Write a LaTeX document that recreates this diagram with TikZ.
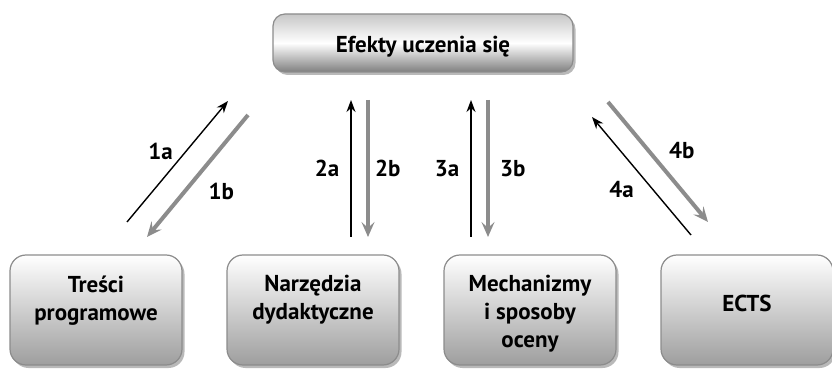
\documentclass[tikz,border=0pt]{standalone}
\usepackage{fontspec}
\setmainfont{PT Sans}
\usetikzlibrary{positioning,shadows,arrows.meta}

\tikzset{
  box/.style={draw=black!45, line width=1.2pt, rounded corners=16pt,
    minimum width=172pt, minimum height=110pt,
    top color=white, bottom color=black!38,
    drop shadow={shadow xshift=2.5pt, shadow yshift=-3pt, opacity=.55}},
  topbox/.style={box, rounded corners=12pt, minimum width=300pt, minimum height=58pt,
    top color=black!22, bottom color=black!50, middle color=white},
  txt/.style={font=\bfseries\fontsize{23}{28}\selectfont, align=center, inner sep=0pt},
  lbl/.style={font=\bfseries\fontsize{23}{24}\selectfont, inner sep=0pt},
  up/.style={-{Stealth[length=12pt,width=9pt]}, line width=1.4pt},
  down/.style={-{Stealth[length=15pt,width=13pt,inset=6pt]}, line width=4pt, draw=black!45},
}

\begin{document}
\begin{tikzpicture}[x=1pt,y=-1pt,node distance=217pt,on grid]
  \useasboundingbox (0,0) rectangle (832,371);

  % boxes
  \node[topbox] (efekty) at (423,43) {};
  \node[txt, yshift=-4pt] (tefekty) at (efekty) {Efekty uczenia się};

  \node[box] (tresci) at (96,310) {};
  \node[box, right=of tresci] (narz) {};
  \node[box, right=of narz] (mech) {};
  \node[box, right=of mech] (ects) {};

  \node[txt, anchor=north, yshift=-21pt] (ttresci) at (tresci.north) {Treści\\programowe};
  \node[txt, anchor=north, yshift=-21pt] (tnarz) at (narz.north) {Narzędzia\\dydaktyczne};
  \node[txt, anchor=north, yshift=-21pt] (tmech) at (mech.north) {Mechanizmy\\i sposoby\\oceny};
  \node[txt, yshift=7pt] (tects) at (ects) {ECTS};

  % arrow ends
  \coordinate (a1s) at (127,222); \coordinate (a1e) at (228,101);
  \coordinate (b1s) at (248,115); \coordinate (b1e) at (147,237);
  \coordinate (a2s) at (351,237); \coordinate (a2e) at (351,100);
  \coordinate (b2s) at (368,100); \coordinate (b2e) at (368,237);
  \coordinate (a3s) at (471,237); \coordinate (a3e) at (471,100);
  \coordinate (b3s) at (488,100); \coordinate (b3e) at (488,237);
  \coordinate (a4s) at (691,235); \coordinate (a4e) at (592,117);
  \coordinate (b4s) at (608,102); \coordinate (b4e) at (708,222);

  % arrows
  \draw[up] (a1s) -- node[lbl, above left=1pt and 4pt] (l1a) {1a} (a1e);
  \draw[down] (b1s) -- node[lbl, below right=5pt and 9pt] (l1b) {1b} (b1e);
  \draw[up] (a2s) -- node[lbl, left=11pt] (l2a) {2a} (a2e);
  \draw[down] (b2s) -- node[lbl, right=5pt] (l2b) {2b} (b2e);
  \draw[up] (a3s) -- node[lbl, left=11pt] (l3a) {3a} (a3e);
  \draw[down] (b3s) -- node[lbl, right=10pt] (l3b) {3b} (b3e);
  \draw[up] (a4s) -- node[lbl, below left=5pt and 7pt] (l4a) {4a} (a4e);
  \draw[down] (b4s) -- node[lbl, above right=1pt and 9pt] (l4b) {4b} (b4e);
\end{tikzpicture}
\end{document}
